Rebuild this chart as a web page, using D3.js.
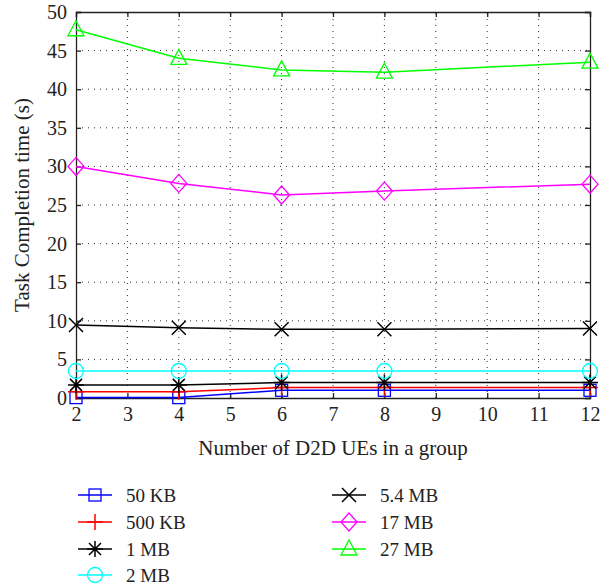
<!DOCTYPE html>
<html>
<head>
<meta charset="utf-8">
<script src="https://cdn.jsdelivr.net/npm/d3@7"></script>
<style>
  body { margin: 0; background: #fff; }
  text { font-family: "Liberation Serif", "DejaVu Serif", serif; fill: #222; }
</style>
</head>
<body>
<svg width="615" height="588"></svg>
<script>
// x positions (group sizes)
const groupSizes = [2, 4, 6, 8, 12];
const xTicks = [2, 3, 4, 5, 6, 7, 8, 9, 10, 11, 12];
const yTicks = [0, 5, 10, 15, 20, 25, 30, 35, 40, 45, 50];

const seriesNames = ["50 KB", "500 KB", "1 MB", "2 MB", "5.4 MB", "17 MB", "27 MB"];
const v50KB = [0.05, 0.05, 1.0, 1.0, 1.0];
const v500KB = [0.8, 0.8, 1.35, 1.35, 1.35];
const v1MB = [1.7, 1.7, 2.0, 2.0, 2.0];
const v2MB = [3.5, 3.5, 3.5, 3.5, 3.5];
const v54MB = [9.45, 9.1, 8.9, 8.9, 9.0];
const v17MB = [30.0, 27.8, 26.3, 26.8, 27.7];
const v27MB = [47.7, 44.0, 42.5, 42.2, 43.5];

const seriesValues = [v50KB, v500KB, v1MB, v2MB, v54MB, v17MB, v27MB];
const seriesColors = ["#0000ff", "#ff0000", "#000000", "#00ffff", "#000000", "#ff00ff", "#00ff00"];
const seriesMarkers = ["square", "plus", "star", "circle", "cross", "diamond", "triangle"];

const svg = d3.select("svg");
const margin = { left: 76, right: 25, top: 12, bottom: 190 };
const width = 615, height = 588;
const x = d3.scaleLinear().domain([2, 12]).range([margin.left, width - margin.right]);
const y = d3.scaleLinear().domain([0, 50]).range([height - margin.bottom, margin.top]);

// dotted grid
const grid = svg.append("g");
grid.selectAll("line.gx").data(xTicks.slice(1, -1)).enter().append("line")
  .attr("x1", d => x(d)).attr("x2", d => x(d))
  .attr("y1", y(0)).attr("y2", y(50))
  .attr("stroke", "#333").attr("stroke-width", 1).attr("stroke-dasharray", "1,5");
grid.selectAll("line.gy").data(yTicks.slice(1, -1)).enter().append("line")
  .attr("x1", x(2)).attr("x2", x(12))
  .attr("y1", d => y(d)).attr("y2", d => y(d))
  .attr("stroke", "#333").attr("stroke-width", 1).attr("stroke-dasharray", "1,5");

// axes with inward ticks, mirrored on top/right
const tk = 5;
svg.append("g").attr("transform", `translate(0,${y(0)})`)
  .call(d3.axisBottom(x).tickValues(xTicks).tickSize(-tk).tickPadding(9).tickFormat(d3.format("d")));
svg.append("g").attr("transform", `translate(${x(2)},0)`)
  .call(d3.axisLeft(y).tickValues(yTicks).tickSize(-tk).tickPadding(9).tickFormat(d3.format("d")));
svg.append("g").attr("transform", `translate(0,${y(50)})`)
  .call(d3.axisTop(x).tickValues(xTicks).tickSize(-tk).tickFormat(""));
svg.append("g").attr("transform", `translate(${x(12)},0)`)
  .call(d3.axisRight(y).tickValues(yTicks).tickSize(-tk).tickFormat(""));
svg.selectAll(".domain").attr("stroke", "#222").attr("stroke-width", 1.3);
svg.selectAll(".tick line").attr("stroke", "#222").attr("stroke-width", 1.3);
svg.selectAll(".tick text").style("font-size", "20px")
  .style("font-family", "'Liberation Serif', serif").attr("fill", "#222");

// axis titles
svg.append("text").attr("x", (x(2) + x(12)) / 2 + 0).attr("y", 455)
  .attr("text-anchor", "middle").style("font-size", "21px")
  .text("Number of D2D UEs in a group");
svg.append("text").attr("transform", `translate(29,${(y(0) + y(50)) / 2}) rotate(-90)`)
  .attr("text-anchor", "middle").style("font-size", "21px")
  .text("Task Completion time (s)");

function drawMarker(g, type, color) {
  const s = g.append("g");
  if (type === "square") {
    s.append("rect").attr("x", -6).attr("y", -6).attr("width", 12).attr("height", 12)
      .attr("fill", "none").attr("stroke", color).attr("stroke-width", 1.3);
  } else if (type === "plus") {
    s.append("path").attr("d", "M-8,0H8M0,-8V8").attr("stroke", color).attr("stroke-width", 1.5);
  } else if (type === "star") {
    s.append("path").attr("d", "M-8,0H8M0,-8V8M-6,-6L6,6M-6,6L6,-6").attr("stroke", color).attr("stroke-width", 1.5);
  } else if (type === "circle") {
    s.append("circle").attr("r", 7.5).attr("fill", "none").attr("stroke", color).attr("stroke-width", 1.3);
  } else if (type === "cross") {
    s.append("path").attr("d", "M-7,-7L7,7M-7,7L7,-7").attr("stroke", color).attr("stroke-width", 1.5);
  } else if (type === "diamond") {
    s.append("path").attr("d", "M0,-9L8,0L0,9L-8,0Z").attr("fill", "none").attr("stroke", color).attr("stroke-width", 1.3);
  } else if (type === "triangle") {
    s.append("path").attr("d", "M0,-9L8,6H-8Z").attr("fill", "none").attr("stroke", color).attr("stroke-width", 1.3);
  }
  return s;
}

const line = d3.line().x((d, i) => x(groupSizes[i])).y(d => y(d));
const plot = svg.append("g");
seriesValues.forEach((vals, k) => {
  plot.append("path").datum(vals).attr("d", line)
    .attr("fill", "none").attr("stroke", seriesColors[k]).attr("stroke-width", 1.5);
  vals.forEach((v, i) => {
    drawMarker(plot, seriesMarkers[k], seriesColors[k])
      .attr("transform", `translate(${x(groupSizes[i])},${y(v)})`);
  });
});

// legend, two columns
const legendCols = [78, 332];
const legendRows = [495, 522, 549, 575];
seriesNames.forEach((name, k) => {
  const col = k < 4 ? 0 : 1;
  const row = k < 4 ? k : k - 4;
  const g = svg.append("g").attr("transform", `translate(${legendCols[col]},${legendRows[row]})`);
  g.append("line").attr("x1", 0).attr("x2", 34).attr("stroke", seriesColors[k]).attr("stroke-width", 1.5);
  drawMarker(g, seriesMarkers[k], seriesColors[k]).attr("transform", "translate(17,0)");
  g.append("text").attr("x", 48).attr("y", 6.5).style("font-size", "19px").text(name);
});
</script>
</body>
</html>
